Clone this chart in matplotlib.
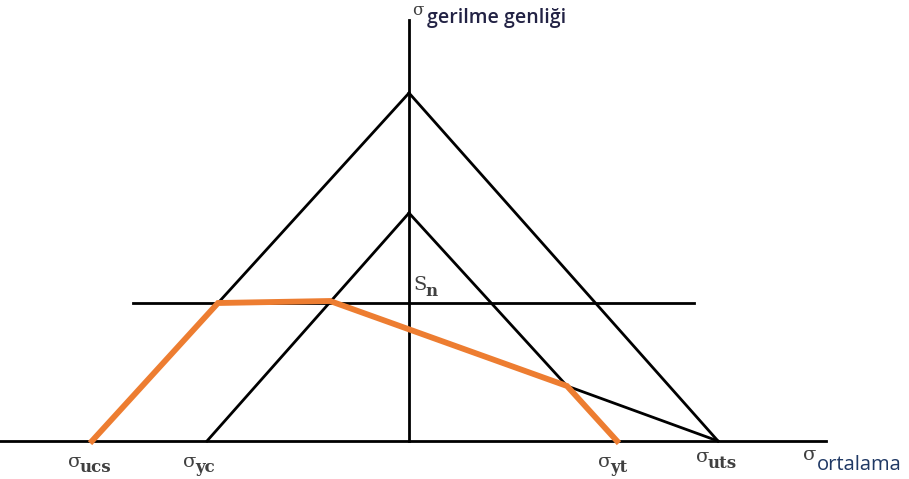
import matplotlib.pyplot as plt

# Diagram values (origin at the intersection of the two axes)
sigma_ucs = -317
sigma_yc = -202
sigma_yt = 208
sigma_uts = 309
amp_big = 348      # apex of outer triangle
amp_small = 228    # apex of inner triangle
s_n = 138          # endurance limit line

axis_x_range = [-409, 417]
axis_y_top = 421
sn_range = [-276, 285]

outer_left_x = [0, -191]
outer_left_y = [amp_big, s_n]
outer_right_x = [0, sigma_uts]
outer_right_y = [amp_big, 0]
inner_left_x = [0, sigma_yc]
inner_left_y = [amp_small, 0]
inner_right_x = [0, 158, sigma_uts]
inner_right_y = [amp_small, 55, 0]

orange_x = [sigma_ucs, -191, -79, 158, sigma_yt]
orange_y = [0, s_n, 140, 55, 0]

# label text, sigma position, subscript offset
bottom_labels = ["ucs", "yc", "yt", "uts"]
bottom_sigma_x = [-334, -219, 196, 294]
bottom_sigma_y = [-21, -21, -21, -16]

fig = plt.figure(figsize=(9.09, 4.79), dpi=100)
ax = fig.add_axes([0, 0, 1, 1])
ax.set_xlim(-409, 500)
ax.set_ylim(-38, 441)
ax.axis('off')

lw = 2.0
ax.plot(axis_x_range, [0, 0], color='black', lw=lw)
ax.plot([0, 0], [0, axis_y_top], color='black', lw=lw)
ax.plot(sn_range, [s_n, s_n], color='black', lw=lw)
ax.plot(outer_left_x, outer_left_y, color='black', lw=lw)
ax.plot(outer_right_x, outer_right_y, color='black', lw=lw)
ax.plot(inner_left_x, inner_left_y, color='black', lw=lw)
ax.plot(inner_right_x, inner_right_y, color='black', lw=lw)
ax.plot(orange_x, orange_y, color='#ED7D31', lw=4.2, solid_joinstyle='miter')

serif = 'DejaVu Serif'
grey = '#404040'
for name, sx, sy in zip(bottom_labels, bottom_sigma_x, bottom_sigma_y):
    ax.text(sx, sy, 'σ', fontsize=14, color=grey, ha='center', va='center', family=serif)
    ax.text(sx + 5, sy - 6, name, fontsize=12, color=grey, ha='left', va='center',
            family=serif, fontweight='semibold')

ax.text(401, -14, 'σ', fontsize=14, color=grey, ha='center', va='center', family=serif)
ax.text(408, -24, 'ortalama', fontsize=14.5, color='#1f3864', ha='left', va='center',
        family='Open Sans')
ax.text(11, 156, 'S', fontsize=14, color=grey, ha='center', va='center', family=serif)
ax.text(16, 150, 'n', fontsize=12, color=grey, ha='left', va='center',
        family=serif, fontweight='semibold')
ax.text(9, 431, 'σ', fontsize=12, color=grey, ha='center', va='center', family=serif)
ax.text(18, 423, 'gerilme genliği', fontsize=14, color='#222244', ha='left', va='center',
        family='Open Sans', fontweight='semibold')

fig.savefig('out.png', dpi=100)
